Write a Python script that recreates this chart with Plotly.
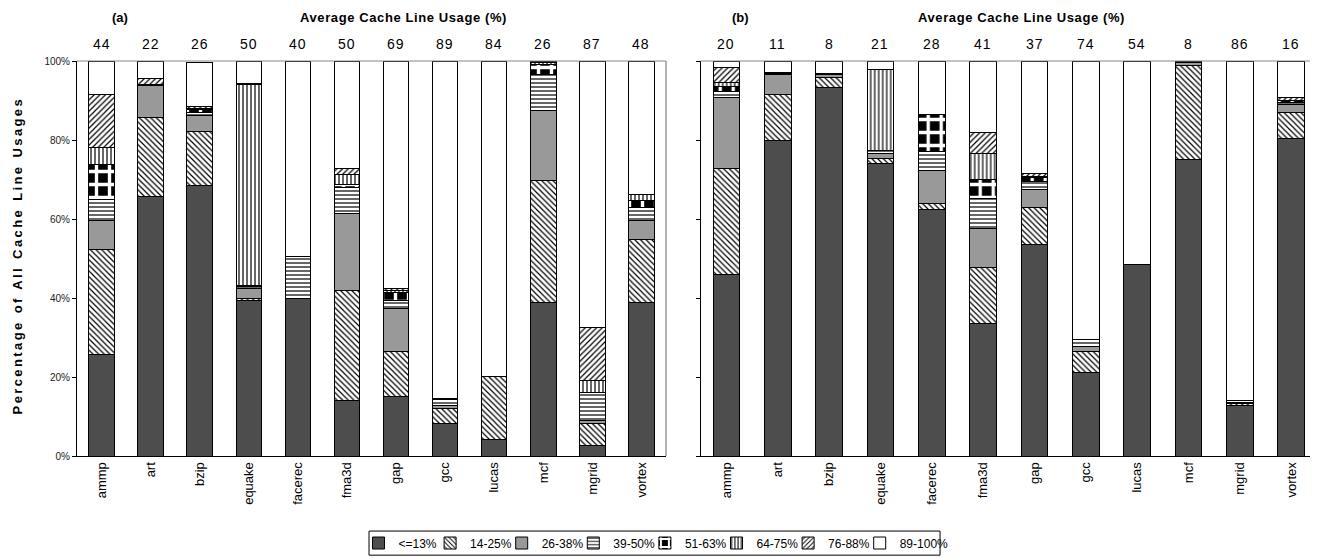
import plotly.graph_objects as go
from plotly.subplots import make_subplots

CATEGORIES = ["ammp", "art", "bzip", "equake", "facerec", "fma3d",
              "gap", "gcc", "lucas", "mcf", "mgrid", "vortex"]
RANGES = ["<=13%", "14-25%", "26-38%", "39-50%", "51-63%", "64-75%", "76-88%", "89-100%"]

AVG_A = [44, 22, 26, 50, 40, 50, 69, 89, 84, 26, 87, 48]
AVG_B = [20, 11, 8, 21, 28, 41, 37, 74, 54, 8, 86, 16]

Y_TICKS = [0, 20, 40, 60, 80, 100]
Y_TICK_TEXT = ["0%", "20%", "40%", "60%", "80%", "100%"]

# Panel (a) values (% of all cache line usages), one list per usage range
A_LE13   = [25.6, 65.7, 68.6, 39.4, 39.9, 14.1, 15.1, 8.3, 4.2, 38.8, 2.7, 38.8]
A_14_25  = [26.7, 19.9, 13.5, 0.4, 0.0, 27.9, 11.4, 3.8, 16.0, 30.9, 5.6, 16.0]
A_26_38  = [7.4, 8.2, 4.0, 2.6, 0.0, 19.4, 10.9, 0.8, 0.0, 17.8, 0.7, 4.9]
A_39_50  = [5.3, 0.0, 0.8, 0.6, 10.7, 6.5, 2.0, 1.5, 0.0, 9.1, 7.0, 3.3]
A_51_63  = [8.7, 0.0, 0.8, 0.2, 0.0, 0.9, 2.0, 0.0, 0.0, 2.6, 0.0, 1.7]
A_64_75  = [4.5, 0.3, 0.3, 50.8, 0.0, 2.5, 0.5, 0.0, 0.0, 0.3, 3.2, 1.5]
A_76_88  = [13.4, 1.4, 0.4, 0.4, 0.0, 1.5, 0.5, 0.2, 0.0, 0.3, 13.4, 0.0]
A_89_100 = [8.4, 4.5, 11.1, 5.6, 49.4, 27.2, 57.6, 85.4, 79.8, 0.2, 67.4, 33.8]

# Panel (b) values
B_LE13   = [46.0, 79.9, 93.3, 74.0, 62.5, 33.6, 53.5, 21.2, 48.5, 75.0, 12.7, 80.3]
B_14_25  = [26.9, 11.6, 2.4, 1.4, 1.5, 14.1, 9.4, 5.3, 0.0, 23.9, 0.6, 6.6]
B_26_38  = [17.9, 5.2, 0.8, 1.1, 8.4, 9.9, 4.6, 1.2, 0.0, 0.6, 0.3, 2.1]
B_39_50  = [1.6, 0.2, 0.2, 0.9, 4.6, 7.5, 2.0, 1.7, 0.0, 0.0, 0.4, 0.6]
B_51_63  = [1.1, 0.0, 0.0, 0.0, 9.4, 5.0, 1.0, 0.0, 0.0, 0.0, 0.0, 0.3]
B_64_75  = [1.0, 0.0, 0.0, 20.4, 0.0, 6.4, 0.3, 0.0, 0.0, 0.0, 0.0, 0.2]
B_76_88  = [3.9, 0.3, 0.2, 0.0, 0.0, 5.5, 0.8, 0.0, 0.0, 0.0, 0.0, 0.6]
B_89_100 = [1.6, 2.8, 3.1, 2.2, 13.6, 18.0, 28.4, 70.6, 51.5, 0.5, 86.0, 9.3]

PANEL_A = [A_LE13, A_14_25, A_26_38, A_39_50, A_51_63, A_64_75, A_76_88, A_89_100]
PANEL_B = [B_LE13, B_14_25, B_26_38, B_39_50, B_51_63, B_64_75, B_76_88, B_89_100]

FONT = "Liberation Sans, Arial, sans-serif"


def pat(shape, size, solidity, fg="black", bg="white"):
    return dict(shape=shape, size=size, solidity=solidity, fgcolor=fg,
                bgcolor=bg, fillmode="replace")


STYLES = [
    dict(color="#4d4d4d"),
    dict(color="white", pattern=pat("\\", 4, 0.3)),
    dict(color="#999999"),
    dict(color="white", pattern=pat("-", 4, 0.3)),
    dict(color="black", pattern=pat("+", 13, 0.45, fg="white", bg="black")),
    dict(color="white", pattern=pat("|", 4, 0.3)),
    dict(color="white", pattern=pat("/", 4, 0.3)),
    dict(color="white"),
]

fig = make_subplots(rows=1, cols=2, horizontal_spacing=0.028)

legend_ids = ["legend"] + ["legend%d" % (k + 1) for k in range(1, len(RANGES))]

for col, panel in ((1, PANEL_A), (2, PANEL_B)):
    for i, (name, vals) in enumerate(zip(RANGES, panel)):
        y = [v if v > 0 else None for v in vals]
        fig.add_trace(go.Bar(
            x=CATEGORIES, y=y, name=name, legendgroup=name,
            showlegend=(col == 1),
            legend=legend_ids[i],
            marker=dict(line=dict(color="black", width=1), **STYLES[i]),
        ), row=1, col=col)

# The page body has an 8px margin, so the figure is sized/offset to compensate.
fig.update_layout(
    barmode="stack", bargap=0.48,
    width=1310, height=550,
    margin=dict(l=69, r=1, t=53, b=102),
    plot_bgcolor="white", paper_bgcolor="white",
    font=dict(family=FONT, color="black"),
)

# one small legend per entry so that entries sit at the reference spacing
legend_layout = {}
for i, lid in enumerate(legend_ids):
    sym_center_px = 378.5 + i * 71.6
    legend_layout[lid] = dict(orientation="h", xanchor="left",
                              x=(sym_center_px - 20 - 77) / 1240.0,
                              y=-0.2203, yanchor="middle",
                              borderwidth=0, font=dict(size=12, family=FONT, color="black"),
                              itemwidth=30, bgcolor="rgba(0,0,0,0)")
fig.update_layout(**legend_layout)

fig.update_layout(xaxis=dict(domain=[0, 0.475]), xaxis2=dict(domain=[0.503, 1.0]))

for ax in ("xaxis", "xaxis2"):
    fig.layout[ax].update(range=[-0.5, 11.5], showline=True, linecolor="black", linewidth=1,
                          ticks="", tickangle=-90, tickfont=dict(size=13, family=FONT),
                          showgrid=False, zeroline=False, automargin=False)
for ax in ("yaxis", "yaxis2"):
    fig.layout[ax].update(range=[0, 100], tickmode="array", tickvals=Y_TICKS, ticktext=Y_TICK_TEXT,
                          showline=True, linecolor="black", linewidth=1,
                          ticks="outside", ticklen=4, tickcolor="black",
                          tickfont=dict(size=10, family=FONT, color="#222"),
                          showgrid=False, zeroline=False, automargin=False)
fig.layout.yaxis2.showticklabels = False

shapes = []
for xr, yr in (("x domain", "y domain"), ("x2 domain", "y2 domain")):
    shapes.append(dict(type="line", xref=xr, yref=yr, x0=0, x1=1, y0=1, y1=1,
                       line=dict(color="#888", width=1)))
    shapes.append(dict(type="line", xref=xr, yref=yr, x0=1, x1=1, y0=0, y1=1,
                       line=dict(color="#666", width=1)))
# legend frame
shapes.append(dict(type="rect", xref="paper", yref="paper", x0=0.2355, x1=0.696,
                   y0=-0.251, y1=-0.19, line=dict(color="black", width=1)))
fig.update_layout(shapes=shapes)

annotations = []
for xa, avgs in (("x", AVG_A), ("x2", AVG_B)):
    for c, v in zip(CATEGORIES, avgs):
        annotations.append(dict(x=c, xref=xa, y=1.043, yref="paper",
                                text='<span style="letter-spacing:1px">%d</span>' % v,
                                showarrow=False, font=dict(size=14, family=FONT),
                                xanchor="center", yanchor="middle"))
for lab, lx, tx in (("(a)", 0.035, 0.263), ("(b)", 0.535, 0.762)):
    annotations.append(dict(x=lx, y=1.109, xref="paper", yref="paper", text="<b>%s</b>" % lab,
                            showarrow=False, font=dict(size=13, family=FONT),
                            xanchor="center", yanchor="middle"))
    annotations.append(dict(x=tx, y=1.109, xref="paper", yref="paper",
                            text='<b><span style="letter-spacing:0.6px">Average Cache Line Usage (%)</span></b>',
                            showarrow=False, font=dict(size=13, family=FONT),
                            xanchor="center", yanchor="middle"))
annotations.append(dict(x=-0.048, y=0.509, xref="paper", yref="paper", textangle=-90,
                        text='<b><span style="letter-spacing:2.4px; word-spacing:1px">Percentage of All Cache Line Usages</span></b>',
                        showarrow=False, font=dict(size=13, family=FONT),
                        xanchor="center", yanchor="middle"))
fig.update_layout(annotations=annotations)

fig.write_html("out.html")
